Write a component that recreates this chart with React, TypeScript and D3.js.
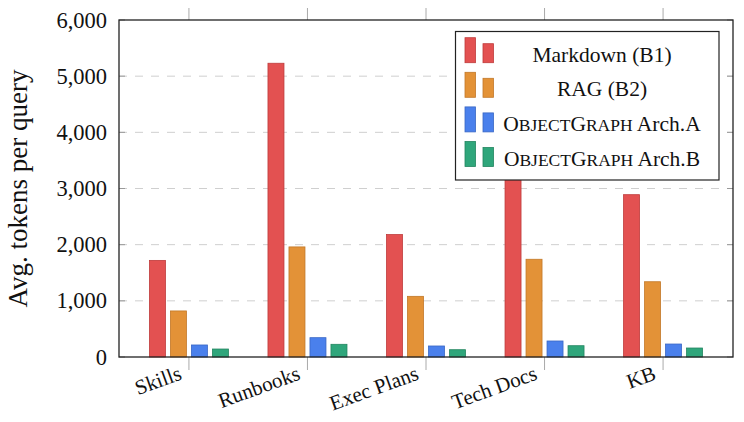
import React from "react";
import * as d3 from "d3";

const categories = ["Skills", "Runbooks", "Exec Plans", "Tech Docs", "KB"];
const markdownB1 = [1720, 5230, 2180, 3600, 2890];
const ragB2 = [820, 1960, 1080, 1740, 1340];
const archA = [214, 344, 196, 285, 231];
const archB = [142, 226, 130, 201, 160];
const yTicks = [0, 1000, 2000, 3000, 4000, 5000, 6000];

const seriesNames = ["Markdown (B1)", "RAG (B2)", "ObjectGraph Arch.A", "ObjectGraph Arch.B"];
const seriesValues = [markdownB1, ragB2, archA, archB];
const fills = ["#E35151", "#E39237", "#4A80EC", "#2FA67B"];
const strokes = ["#BF3B3B", "#C27828", "#3966C4", "#22855F"];

const W = 744, H = 422;
const left = 119, right = 733, top = 20, bottom = 357;
const FONT = "Liberation Serif, Tinos, Times New Roman, DejaVu Serif, serif";

const x = d3.scalePoint<string>().domain(categories).range([left, right]).padding(0.59);
const y = d3.scaleLinear().domain([0, 6000]).range([bottom, top]);
const offset = d3.scalePoint<string>().domain(seriesNames).range([-31.5, 31.5]);
const barW = 16;
const fmt = d3.format(",");

function LegendLabel({ name }: { name: string }) {
  if (name.startsWith("ObjectGraph")) {
    const rest = name.replace("ObjectGraph", "");
    const sc = 17.5;
    return (
      <>
        <tspan>O</tspan>
        <tspan fontSize={sc}>BJECT</tspan>
        <tspan>G</tspan>
        <tspan fontSize={sc}>RAPH</tspan>
        <tspan>{rest}</tspan>
      </>
    );
  }
  return <>{name}</>;
}

export default function App() {
  const legX = 455.5, legY = 31.5, legW = 263.5, legH = 148.5;
  const rowStep = 34.6;
  return (
    <svg width={W} height={H} style={{ position: "absolute", left: 0, top: 0, background: "#fff", fontFamily: FONT }}>
      <rect x={0} y={0} width={W} height={H} fill="#fff" />
      {yTicks.slice(1, -1).map((t) => (
        <line key={t} x1={left} x2={right} y1={y(t)} y2={y(t)} stroke="#cfcfcf" strokeWidth={1} strokeDasharray="8 8" />
      ))}
      {yTicks.map((t) => (
        <g key={"yt" + t}>
          <line x1={left} x2={left + 6} y1={y(t)} y2={y(t)} stroke="#999" strokeWidth={1} />
          <line x1={right - 6} x2={right} y1={y(t)} y2={y(t)} stroke="#999" strokeWidth={1} />
          <text x={107} y={y(t)} textAnchor="end" dominantBaseline="central" fontSize={22.5} fill="#111">
            {fmt(t)}
          </text>
        </g>
      ))}
      {categories.map((c) => (
        <g key={"xt" + c}>
          <line x1={x(c)!} x2={x(c)!} y1={top - 12} y2={top} stroke="#aaa" strokeWidth={1} />
          <line x1={x(c)!} x2={x(c)!} y1={bottom} y2={bottom + 13} stroke="#aaa" strokeWidth={1} />
          <text
            transform={`translate(${x(c)! - 6},${bottom + 22}) rotate(-20)`}
            textAnchor="end"
            fontSize={21}
            fill="#111"
          >
            {c}
          </text>
        </g>
      ))}
      {seriesNames.map((s, si) =>
        categories.map((c, ci) => {
          const v = seriesValues[si][ci];
          const cx = x(c)! + offset(s)!;
          return (
            <rect
              key={s + c}
              x={cx - barW / 2}
              y={y(v)}
              width={barW}
              height={bottom - y(v)}
              fill={fills[si]}
              stroke={strokes[si]}
              strokeWidth={0.8}
            />
          );
        })
      )}
      <rect x={left} y={top} width={right - left} height={bottom - top} fill="none" stroke="#222" strokeWidth={1.3} />
      <text
        transform={`translate(27,${(top + bottom) / 2}) rotate(-90)`}
        textAnchor="middle"
        fontSize={27}
        fill="#111"
      >
        Avg. tokens per query
      </text>
      <rect x={legX} y={legY} width={legW} height={legH} fill="#fff" stroke="#222" strokeWidth={1.2} />
      {seriesNames.map((s, si) => {
        const base = 62.7 + si * rowStep;
        return (
          <g key={"leg" + s}>
            <rect x={465} y={base - 25} width={10.5} height={25} fill={fills[si]} stroke={strokes[si]} strokeWidth={0.8} />
            <rect x={483} y={base - 19} width={10.5} height={19} fill={fills[si]} stroke={strokes[si]} strokeWidth={0.8} />
            <text x={602} y={base - 1} textAnchor="middle" fontSize={21.5} fill="#111">
              <LegendLabel name={s} />
            </text>
          </g>
        );
      })}
    </svg>
  );
}
